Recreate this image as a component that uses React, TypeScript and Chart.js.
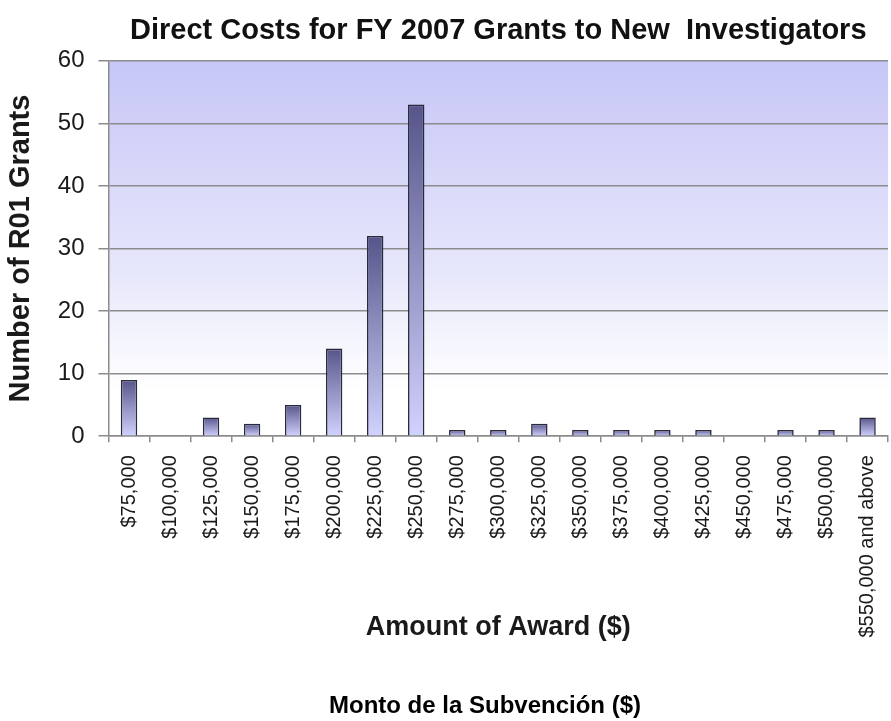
import React, { useEffect, useRef } from "react";
import { Chart, registerables } from "chart.js";

Chart.register(...registerables);

const categories = [
  "$75,000",
  "$100,000",
  "$125,000",
  "$150,000",
  "$175,000",
  "$200,000",
  "$225,000",
  "$250,000",
  "$275,000",
  "$300,000",
  "$325,000",
  "$350,000",
  "$375,000",
  "$400,000",
  "$425,000",
  "$450,000",
  "$475,000",
  "$500,000",
  "$550,000 and above",
];

const grantCounts = [9, 0, 3, 2, 5, 14, 32, 53, 1, 1, 2, 1, 1, 1, 1, 0, 1, 1, 3];

const yMin = 0;
const yMax = 60;
const yStep = 10;

const chartTitle = "Direct Costs for FY 2007 Grants to New  Investigators";
const yAxisTitle = "Number of R01 Grants";
const xAxisTitle = "Amount of Award ($)";
const bottomText = "Monto de la Subvención ($)";

const FONT = "'Liberation Sans', Arial, sans-serif";

const plotBackground = {
  id: "plotBackground",
  beforeDraw(chart: any) {
    const { ctx, chartArea: a } = chart;
    if (!a) return;
    const g = ctx.createLinearGradient(0, a.top, 0, a.bottom);
    g.addColorStop(0, "#c6c6f7");
    g.addColorStop(0.55, "#e6e6fb");
    g.addColorStop(0.88, "#ffffff");
    g.addColorStop(1, "#ffffff");
    ctx.save();
    ctx.fillStyle = g;
    ctx.fillRect(a.left, a.top, a.right - a.left, a.bottom - a.top);
    ctx.restore();
  },
};

export default function App() {
  const canvasRef = useRef<HTMLCanvasElement | null>(null);

  useEffect(() => {
    if (!canvasRef.current) return;
    const chart = new Chart(canvasRef.current, {
      type: "bar",
      data: {
        labels: categories,
        datasets: [
          {
            label: yAxisTitle,
            data: grantCounts,
            backgroundColor: (c: any) => {
              const ch = c.chart;
              const y = ch.scales && ch.scales.y;
              if (!y || c.type !== "data") return "#9a9acc";
              const v = c.parsed ? c.parsed.y : 0;
              const top = y.getPixelForValue(v);
              const base = y.getPixelForValue(0);
              if (!isFinite(top) || !isFinite(base) || Math.abs(base - top) < 1) return "#9a9acc";
              const g = ch.ctx.createLinearGradient(0, top, 0, base);
              g.addColorStop(0, "#55558a");
              g.addColorStop(1, "#d2d2ff");
              return g;
            },
            borderColor: "#2a2a3c",
            borderWidth: 1.6,
            barPercentage: 0.4,
            categoryPercentage: 1,
          },
        ],
      },
      options: {
        responsive: false,
        animation: false,
        layout: { padding: { left: 0, right: 7, top: 0, bottom: 77 } },
        plugins: {
          legend: { display: false },
          tooltip: { enabled: false },
          title: {
            display: true,
            text: chartTitle,
            fullSize: false,
            color: "#111111",
            font: { family: FONT, size: 29, weight: "bold" },
            padding: { top: 14, bottom: 12 },
          },
        },
        scales: {
          x: {
            grid: {
              display: true,
              offset: true,
              drawOnChartArea: false,
              drawTicks: true,
              tickLength: 6,
              color: "#8c8c8c",
              lineWidth: 1.5,
            },
            border: { display: true, color: "#8c8c8c", width: 1.5 },
            ticks: {
              autoSkip: false,
              minRotation: 90,
              maxRotation: 90,
              padding: 13,
              color: "#1a1a1a",
              font: { family: FONT, size: 20 },
            },
            title: {
              display: true,
              text: xAxisTitle,
              color: "#1a1a1a",
              font: { family: FONT, size: 27, weight: "bold" },
              padding: { top: -39, bottom: 0 },
            },
          },
          y: {
            min: yMin,
            max: yMax,
            ticks: {
              stepSize: yStep,
              padding: 14,
              color: "#1a1a1a",
              font: { family: FONT, size: 24 },
            },
            grid: {
              color: "#8c8c8c",
              lineWidth: 1.5,
              tickLength: 10,
              drawTicks: true,
            },
            border: { display: true, color: "#8c8c8c", width: 1.5 },
            title: {
              display: true,
              text: yAxisTitle,
              color: "#1a1a1a",
              font: { family: FONT, size: 29, weight: "bold" },
              padding: { top: 4, bottom: 5 },
            },
          },
        },
      },
      plugins: [plotBackground],
    });
    return () => chart.destroy();
  }, []);

  return (
    <div
      style={{
        position: "fixed",
        left: 0,
        top: 0,
        width: 891,
        height: 721,
        overflow: "hidden",
        background: "#ffffff",
      }}
    >
      <canvas ref={canvasRef} width={905} height={721} style={{ display: "block" }} />
      <div
        style={{
          position: "absolute",
          left: 0,
          width: 970,
          top: 690,
          textAlign: "center",
          fontFamily: FONT,
          fontWeight: "bold",
          fontSize: 24,
          lineHeight: "30px",
          color: "#000000",
          whiteSpace: "nowrap",
        }}
      >
        {bottomText}
      </div>
    </div>
  );
}
